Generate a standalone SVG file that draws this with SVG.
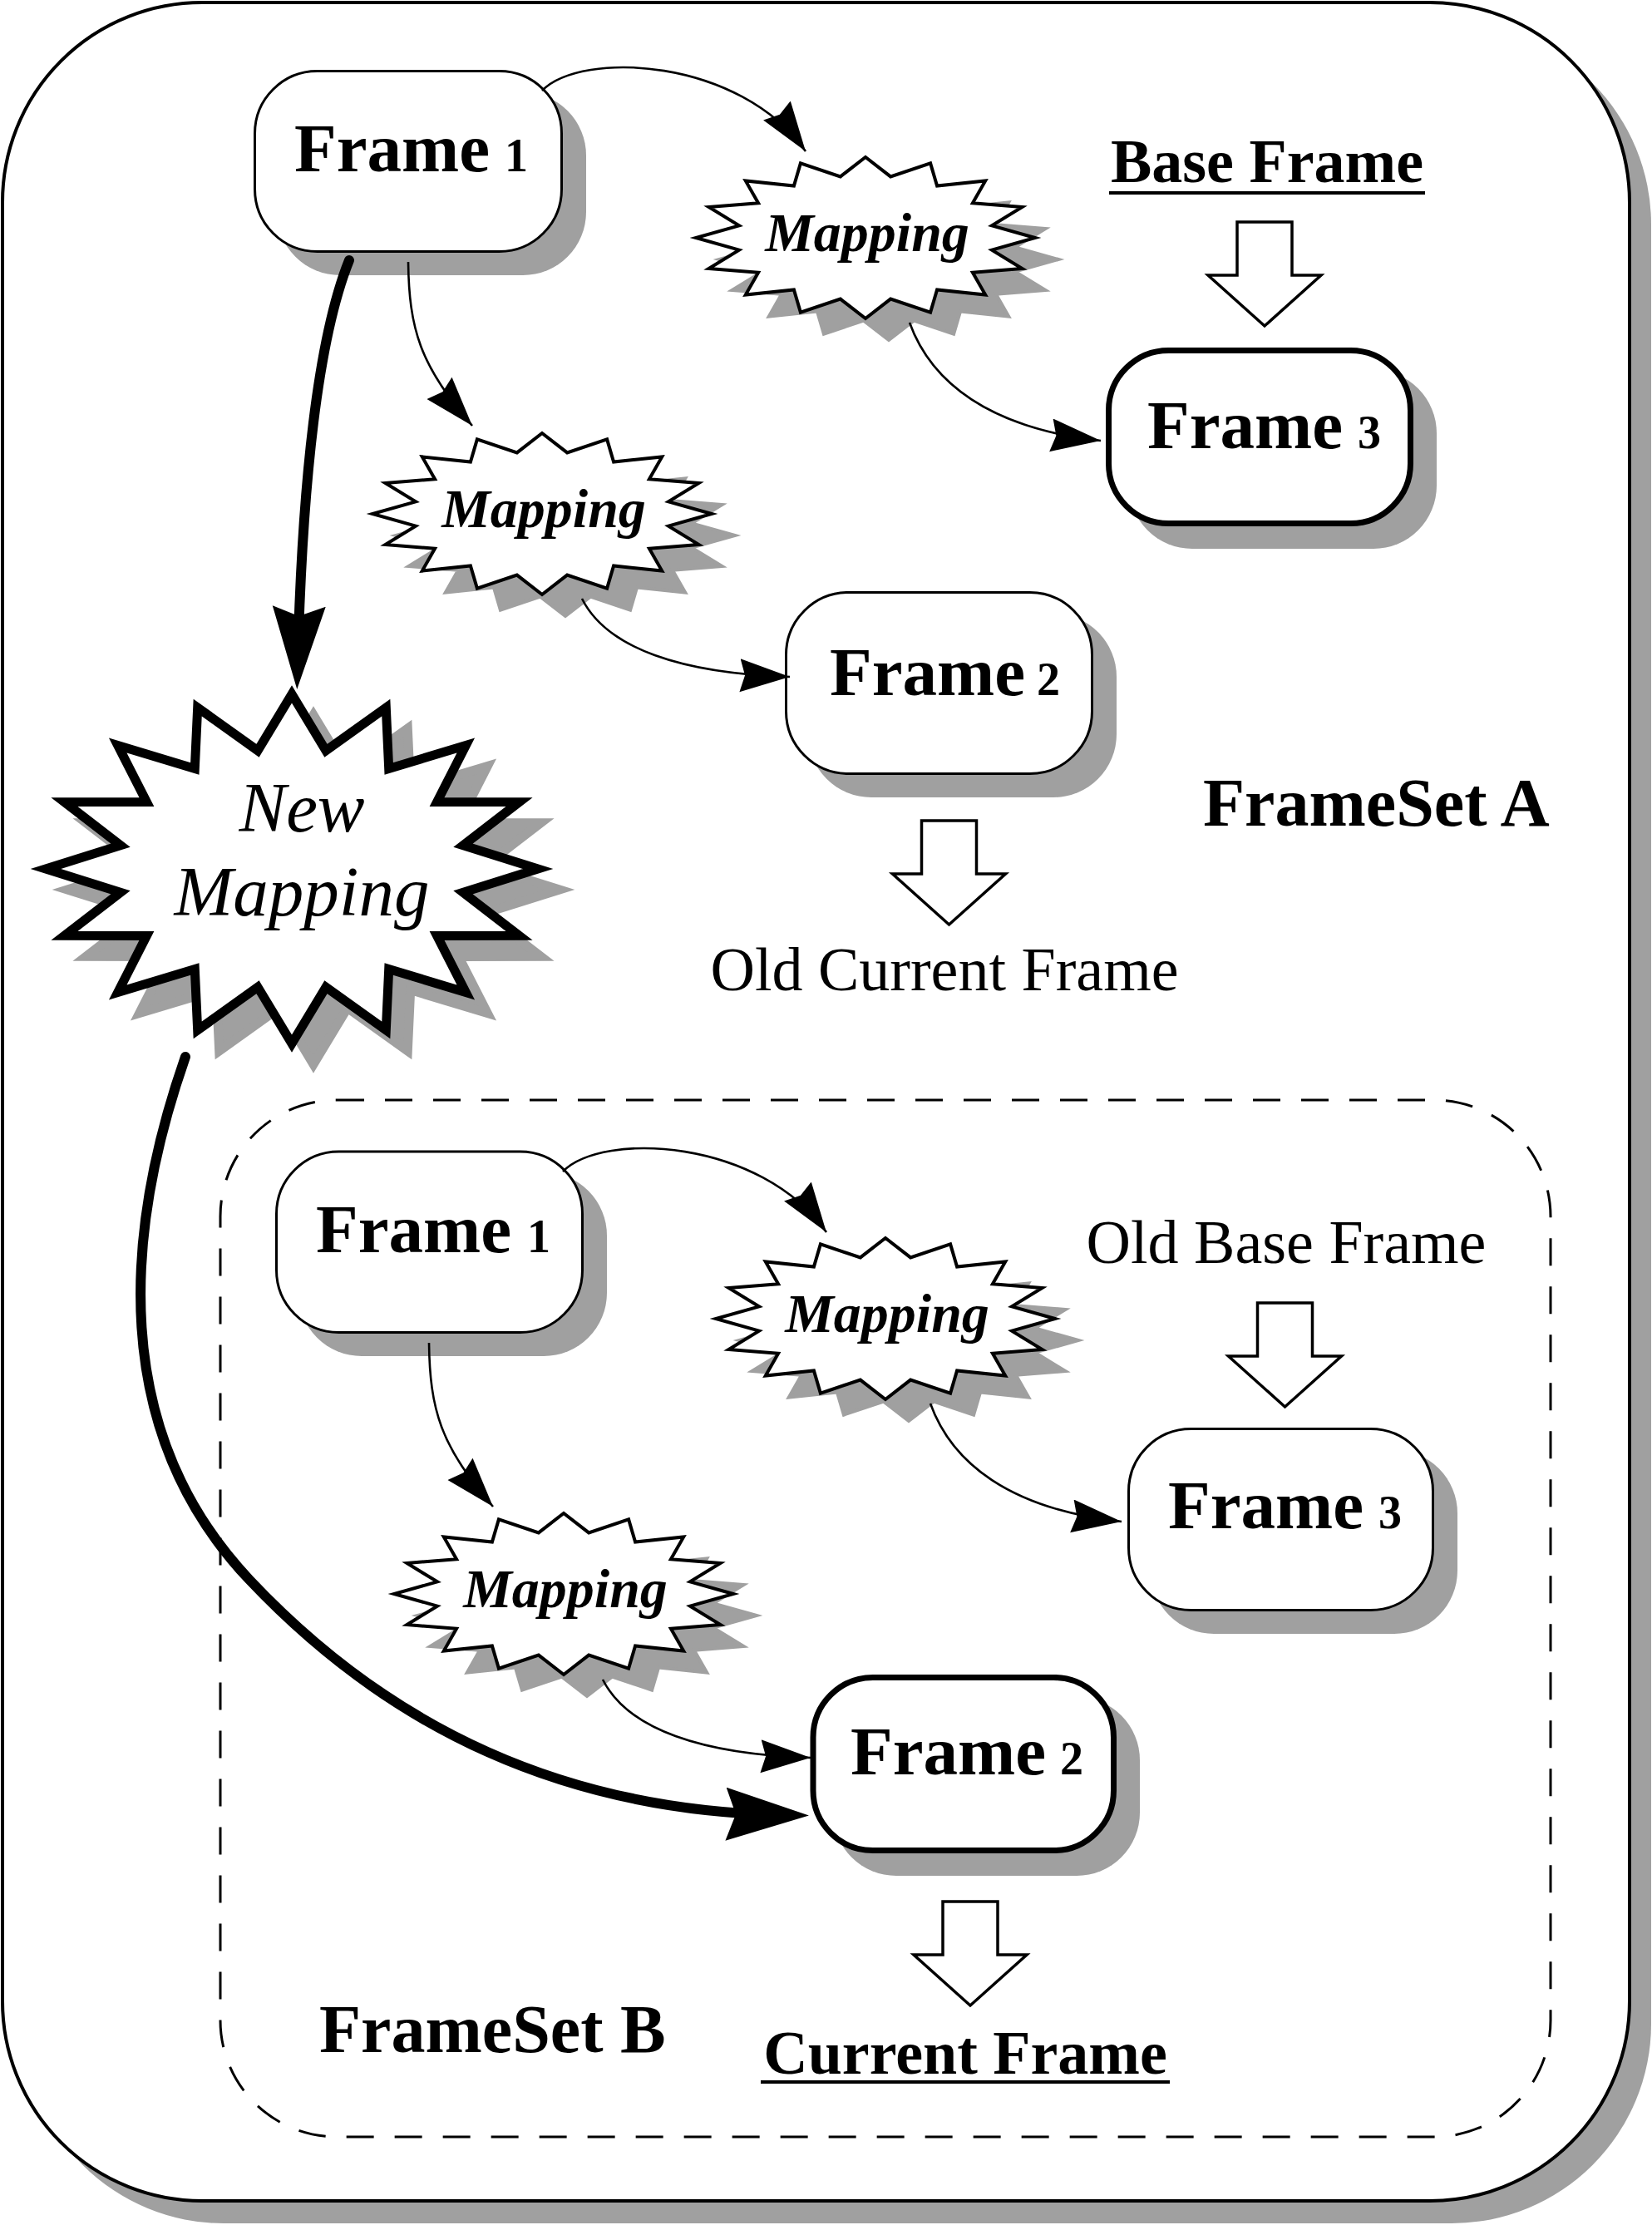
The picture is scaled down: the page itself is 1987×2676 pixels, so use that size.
<svg xmlns="http://www.w3.org/2000/svg" xmlns:xlink="http://www.w3.org/1999/xlink" width="1987" height="2676" viewBox="0 0 1987 2676">
<style>
.bg{fill:#ffffff}
.sh{fill:#a0a0a0;stroke:none}
.frame{fill:#ffffff;stroke:#000;stroke-width:3}
.thick{stroke-width:7}
.star{fill:#ffffff;stroke:#000;stroke-width:4;stroke-miterlimit:12;stroke-linejoin:miter}
.starsh{fill:#a0a0a0;stroke:#a0a0a0;stroke-width:4;stroke-miterlimit:12}
.bigstar{fill:#ffffff;stroke:#000;stroke-width:11;stroke-miterlimit:12;stroke-linejoin:miter}
.bigstarsh{fill:#a0a0a0;stroke:#a0a0a0;stroke-width:11;stroke-miterlimit:12}
.conn{fill:none;stroke:#000;stroke-width:2.6}
.connthick{fill:none;stroke:#000;stroke-width:12;stroke-linecap:round}
.block{fill:#ffffff;stroke:#000;stroke-width:3.5;stroke-linejoin:miter}
.t{font-family:"Liberation Serif","Times New Roman",serif;fill:#000}
.fr{font-size:83px;font-weight:bold}
.dg{font-size:56px;font-weight:bold}
.map{font-size:66px;font-weight:bold;font-style:italic}
.nm{font-size:85px;font-style:italic}
.lb{font-size:74px;font-weight:bold}
.lr{font-size:74px}
.fs{font-size:82px;font-weight:bold}
.ul{stroke:#000;stroke-width:4}
</style>
<defs>
<marker id="ah" markerUnits="userSpaceOnUse" markerWidth="62" markerHeight="42" viewBox="0 0 62 42" refX="60" refY="20" orient="auto">
<path d="M0,0 L60,20 L0,40 L6,20 Z" fill="#000"/>
</marker>
<marker id="ahThick" markerUnits="userSpaceOnUse" markerWidth="102" markerHeight="66" viewBox="0 0 102 66" refX="70" refY="32" orient="auto">
<path d="M0,0 L100,32 L0,64 L12,32 Z" fill="#000"/>
</marker>
<polygon id="star16" points="204,0 152,-14.6 188.5,-37.1 128.9,-41.7 144.2,-68.6 86.1,-62.4 78.1,-89.6 30.2,-73.6 0,-97 -30.2,-73.6 -78.1,-89.6 -86.1,-62.4 -144.2,-68.6 -128.9,-41.7 -188.5,-37.1 -152,-14.6 -204,0 -152,14.6 -188.5,37.1 -128.9,41.7 -144.2,68.6 -86.1,62.4 -78.1,89.6 -30.2,73.6 0,97 30.2,73.6 78.1,89.6 86.1,62.4 144.2,68.6 128.9,41.7 188.5,37.1 152,14.6"/>
<polygon id="bigstar16" points="296,0 206,-28.3 273.5,-80.4 174.6,-80.6 209.3,-148.5 116.7,-120.6 113.3,-194 41,-142.2 0,-210 -41,-142.2 -113.3,-194 -116.7,-120.6 -209.3,-148.5 -174.6,-80.6 -273.5,-80.4 -206,-28.3 -296,0 -206,28.3 -273.5,80.4 -174.6,80.6 -209.3,148.5 -116.7,120.6 -113.3,194 -41,142.2 0,210 41,142.2 113.3,194 116.7,120.6 209.3,148.5 174.6,80.6 273.5,80.4 206,28.3"/>
<path id="blockArrow" d="M-33,0 H33 V64 H68 L0,125 L-68,64 H-33 Z"/>
</defs>

<g id="frameset-a">
<rect class="sh" x="29" y="30" width="1957" height="2644" rx="240" ry="240"/>
<rect x="3" y="3" width="1957" height="2644" rx="240" ry="240" fill="#ffffff" stroke="#000" stroke-width="4"/>
</g>

<g id="frameset-b">
<rect x="265" y="1323" width="1600" height="1247" rx="140" ry="140" fill="none" stroke="#000" stroke-width="3" stroke-dasharray="33 25"/>
</g>

<!-- FrameSet A nodes -->
<g id="a-frame1">
<rect class="sh" x="333" y="111" width="372" height="220" rx="76" ry="76"/>
<rect class="frame" x="306.5" y="85.5" width="369" height="217" rx="75" ry="75"/>
<text class="t fr" x="354" y="206">Frame</text><text class="t dg" x="607" y="206">1</text>
</g>
<g id="a-frame2">
<rect class="sh" x="972" y="738" width="371" height="221" rx="76" ry="76"/>
<rect class="frame" x="945.5" y="712.5" width="368" height="218" rx="75" ry="75"/>
<text class="t fr" x="998" y="836">Frame</text><text class="t dg" x="1247" y="836">2</text>
</g>
<g id="a-frame3">
<rect class="sh" x="1358" y="445" width="370" height="215" rx="76" ry="76"/>
<rect class="frame thick" x="1333.5" y="421.5" width="363" height="208" rx="72" ry="72"/>
<text class="t fr" x="1380" y="539">Frame</text><text class="t dg" x="1633" y="539">3</text>
</g>
<g id="a-mapping1">
<use href="#star16" class="starsh" x="1069" y="312"/>
<use href="#star16" class="star" x="1041" y="286"/>
<text class="t map" x="1043" y="302" text-anchor="middle">Mapping</text>
</g>
<g id="a-mapping2">
<use href="#star16" class="starsh" x="680" y="644"/>
<use href="#star16" class="star" x="652" y="618"/>
<text class="t map" x="654" y="634" text-anchor="middle">Mapping</text>
</g>
<g id="a-base-label">
<text class="t lb" x="1524" y="219" text-anchor="middle">Base Frame</text>
<line class="ul" x1="1334" y1="232" x2="1714" y2="232"/>
<use href="#blockArrow" class="block" x="1521" y="267"/>
</g>
<g id="a-current-label">
<use href="#blockArrow" class="block" x="1141.5" y="987"/>
<text class="t lr" x="1136" y="1191" text-anchor="middle">Old Current Frame</text>
</g>
<text class="t fs" x="1447" y="993">FrameSet A</text>

<!-- New Mapping -->
<g id="new-mapping">
<use href="#bigstar16" class="bigstarsh" x="377" y="1070"/>
<use href="#bigstar16" class="bigstar" x="351" y="1045"/>
<text class="t nm" x="363" y="1000" text-anchor="middle">New</text>
<text class="t nm" x="363" y="1101" text-anchor="middle">Mapping</text>
</g>

<!-- FrameSet B nodes -->
<g id="b-frame1">
<rect class="sh" x="359" y="1410" width="371" height="221" rx="76" ry="76"/>
<rect class="frame" x="332.5" y="1385" width="368" height="217.5" rx="75" ry="75"/>
<text class="t fr" x="380" y="1506">Frame</text><text class="t dg" x="634" y="1506">1</text>
</g>
<g id="b-frame3">
<rect class="sh" x="1384" y="1744" width="369" height="221" rx="76" ry="76"/>
<rect class="frame" x="1357.5" y="1718.5" width="366" height="218" rx="75" ry="75"/>
<text class="t fr" x="1405" y="1838">Frame</text><text class="t dg" x="1658" y="1838">3</text>
</g>
<g id="b-frame2">
<rect class="sh" x="1002" y="2041" width="369" height="215" rx="76" ry="76"/>
<rect class="frame thick" x="978" y="2017.5" width="361.5" height="208" rx="72" ry="72"/>
<text class="t fr" x="1023" y="2134">Frame</text><text class="t dg" x="1275" y="2134">2</text>
</g>
<g id="b-mapping1">
<use href="#star16" class="starsh" x="1093" y="1612"/>
<use href="#star16" class="star" x="1065" y="1586"/>
<text class="t map" x="1067" y="1602" text-anchor="middle">Mapping</text>
</g>
<g id="b-mapping2">
<use href="#star16" class="starsh" x="706" y="1943"/>
<use href="#star16" class="star" x="678" y="1917"/>
<text class="t map" x="680" y="1933" text-anchor="middle">Mapping</text>
</g>
<g id="b-base-label">
<text class="t lr" x="1547" y="1519" text-anchor="middle">Old Base Frame</text>
<use href="#blockArrow" class="block" x="1545.5" y="1567"/>
</g>
<g id="b-current-label">
<use href="#blockArrow" class="block" x="1167" y="2287"/>
<text class="t lb" x="1161" y="2494" text-anchor="middle">Current Frame</text>
<line class="ul" x1="915" y1="2504" x2="1407" y2="2504"/>
</g>
<text class="t fs" x="384" y="2468">FrameSet B</text>

<g id="connectors">
<path class="conn" d="M652,109 C700,60 890,70 969,182" marker-end="url(#ah)"/>
<path class="conn" d="M491,315 C492,395 505,440 568,512" marker-end="url(#ah)"/>
<path class="conn" d="M1094,388 C1120,460 1190,515 1324,530" marker-end="url(#ah)"/>
<path class="conn" d="M700,720 C730,780 820,810 950,814" marker-end="url(#ah)"/>
<path class="conn" d="M677,1409 C725,1360 915,1370 994,1482" marker-end="url(#ah)"/>
<path class="conn" d="M516,1615 C517,1695 530,1740 593,1812" marker-end="url(#ah)"/>
<path class="conn" d="M1119,1688 C1145,1760 1215,1815 1349,1830" marker-end="url(#ah)"/>
<path class="conn" d="M725,2020 C755,2080 845,2110 975,2114" marker-end="url(#ah)"/>
<path class="connthick" d="M420,313 C385,400 364,560 358,799" marker-end="url(#ahThick)"/>
<path class="connthick" d="M223,1271 C150,1480 130,1720 300,1900 S680,2178 943,2183" marker-end="url(#ahThick)"/>
</g>
</svg>
